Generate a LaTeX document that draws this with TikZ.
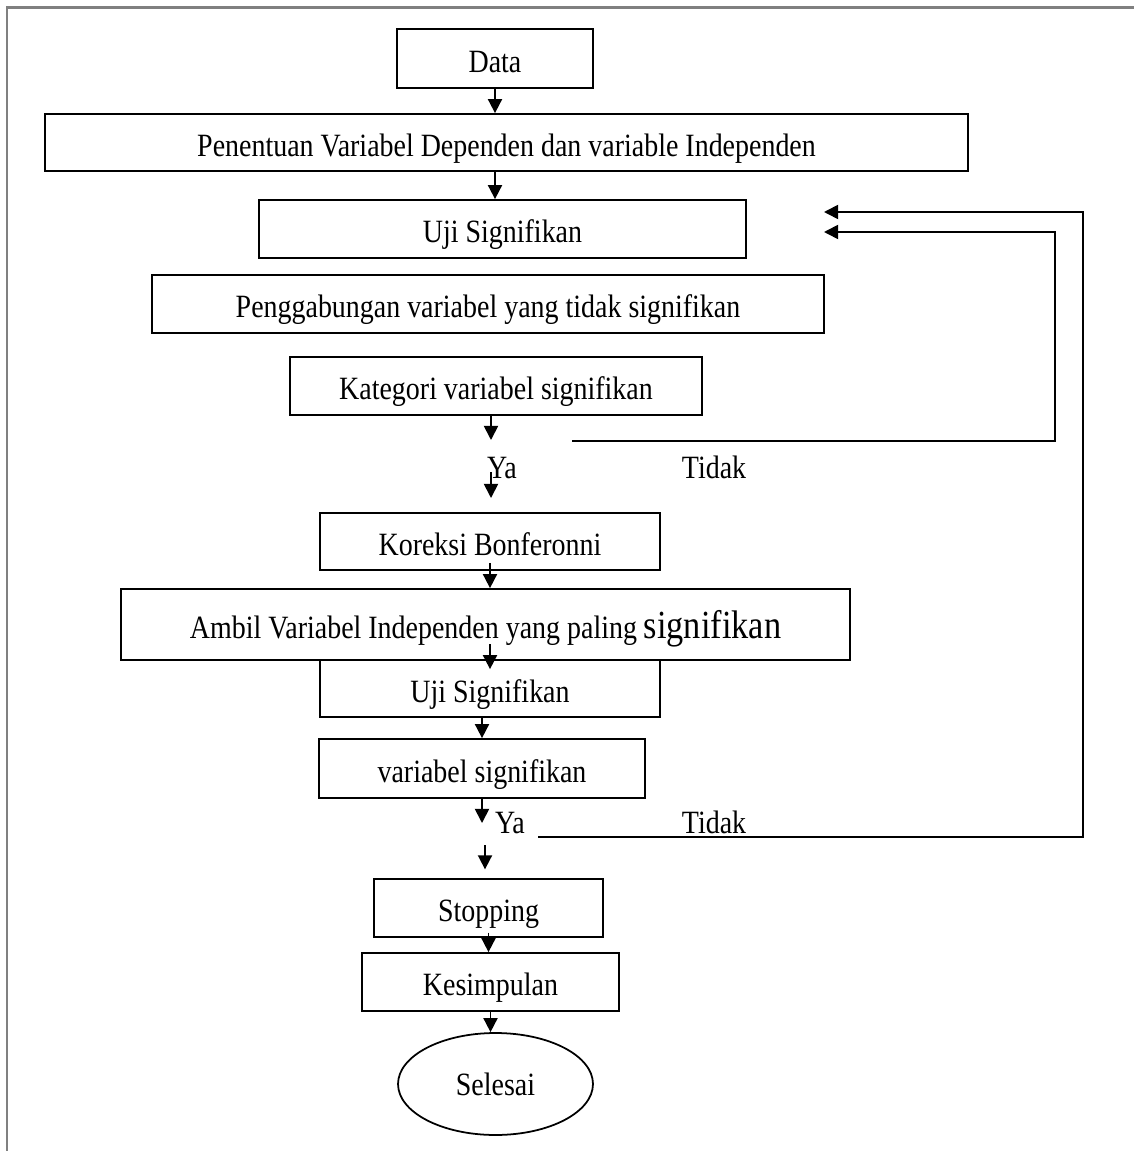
\documentclass[tikz,border=0pt]{standalone}
\usepackage{fontspec}
\setmainfont{Liberation Serif}[FakeStretch=0.86]
\usetikzlibrary{arrows.meta,shapes.geometric}

\tikzset{
  box/.style={draw, line width=1pt, inner sep=0pt, minimum height=1.16cm,
    text height=15.5pt, text depth=0pt},
  endbox/.style={draw, ellipse, line width=1pt, inner sep=0pt},
  arr/.style={line width=1pt, -{Triangle[width=8pt,length=8pt]}},
  frameline/.style={draw=gray, line width=1.7pt}
}

\begin{document}
\begin{tikzpicture}[x=0.02cm, y=-0.02cm, font=\fontsize{18.5}{21}\selectfont]
  \useasboundingbox (0,0) rectangle (1134,1151);
  % frame
  \draw[frameline] (7,1151) -- (7,8) -- (1134,8);

  % first stage
  \node[box, minimum width=3.92cm, minimum height=1.18cm] (data) at (495,58.5) {Data};
  \node[box, minimum width=18.46cm, minimum height=1.14cm] (pen) at (506.5,142.5) {Penentuan Variabel Dependen dan variable Independen};
  \node[box, minimum width=9.74cm] (uji1) at (502.5,229) {Uji Signifikan};
  \node[box, minimum width=13.44cm] (gab) at (488,304) {Penggabungan variabel yang tidak signifikan};
  \node[box, minimum width=8.24cm] (kat) at (496,386) {Kategori variabel signifikan};
  % decision 1
  \node[anchor=base] (ya1) at (502,478) {Ya};
  \node[anchor=base] (tidak1) at (714,478) {Tidak};
  % second stage
  \node[box, minimum width=6.8cm, minimum height=1.14cm] (kor) at (490,541.5) {Koreksi Bonferonni};
  \node[box, minimum width=14.58cm, minimum height=1.42cm] (ambil) at (485.5,624.5) {Ambil Variabel Independen yang paling {\fontsize{22.7}{25}\selectfont signifikan}};
  \node[box, minimum width=6.8cm, minimum height=1.14cm] (uji2) at (490,688.5) {Uji Signifikan};
  \node[box, minimum width=6.52cm, minimum height=1.18cm] (vsig) at (482,768.5) {variabel signifikan};
  % decision 2
  \node[anchor=base] (ya2) at (510,833) {Ya};
  \node[anchor=base] (tidak2) at (714,833) {Tidak};
  % end
  \node[box, minimum width=4.58cm] (stop) at (488.5,908) {Stopping};
  \node[box, minimum width=5.14cm] (kes) at (490.5,982) {Kesimpulan};
  \node[endbox, minimum width=3.9cm, minimum height=2.04cm] (sel) at (495.5,1084) {Selesai};

  % loose ends
  \coordinate (kat1) at (491,440);
  \coordinate (ya1a) at (491,472);
  \coordinate (ya1b) at (491,498);
  \coordinate (vsig1) at (482,823);
  \coordinate (ya2a) at (485,845);
  \coordinate (back1) at (572,441);
  \coordinate (back2) at (538,837);
  \coordinate (uji1in) at (824,232);
  \coordinate (uji1out) at (824,212);

  % main flow
  \draw[arr] (data.south) to (data.south |- pen.north);
  \draw[arr] (pen.south -| data.south) to (uji1.north -| data.south);
  \draw[arr] (kat.south -| kat1) to (kat1);
  \draw[arr] (ya1a) to (ya1b);
  \draw[arr, shorten <=-4.5pt] (kor.south) to (kor.south |- ambil.north);
  \draw[arr] (uji2.north) ++(0,-15) to ++(0,25);
  \draw[arr] (uji2.south -| vsig.north) to (vsig.north);
  \draw[arr] (vsig.south) to (vsig1);
  \draw[arr, shorten >=5pt] (ya2a) to (ya2a |- stop.north);
  \draw[arr, shorten <=-3pt] (stop.south) to (stop.south |- kes.north);
  \draw[arr] (kes.south) to (kes.south |- sel.north);

  % back to Uji Signifikan
  \draw[arr] (back1) -| (1055,232) to (uji1in);
  \draw[arr] (back2) -| (1083,212) to (uji1out);
\end{tikzpicture}
\end{document}
